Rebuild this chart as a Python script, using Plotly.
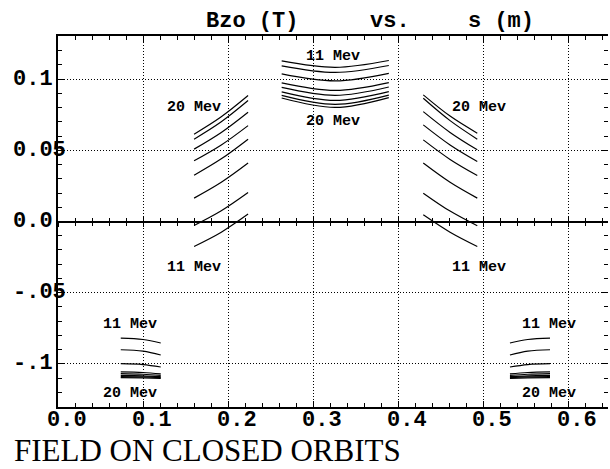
import plotly.graph_objects as go

# Vertical field Bz on the closed orbits versus path length s.
# Each row is one orbit, ordered from 11 MeV to 20 MeV.

# rising flank
s_rise = [0.160, 0.192, 0.2235]
bz_rise = [
    [-0.0175, -0.0075, 0.0052],
    [-0.0028, 0.0075, 0.0203],
    [0.0164, 0.0275, 0.0410],
    [0.0325, 0.0440, 0.0578],
    [0.0426, 0.0537, 0.0673],
    [0.0508, 0.0625, 0.0767],
    [0.0578, 0.0700, 0.0849],
    [0.0613, 0.0735, 0.0884],
]

# hill centre
s_hill = [0.263, 0.326, 0.389]
bz_hill = [
    [0.1127, 0.1082, 0.1130],
    [0.1092, 0.1046, 0.1095],
    [0.1036, 0.0987, 0.1040],
    [0.0973, 0.0920, 0.0975],
    [0.0941, 0.0885, 0.0944],
    [0.0910, 0.0850, 0.0912],
    [0.0885, 0.0822, 0.0887],
    [0.0867, 0.0801, 0.0870],
]

# falling flank
s_fall = [0.4295, 0.461, 0.493]
bz_fall = [
    [0.0047, -0.0075, -0.0175],
    [0.0199, 0.0073, -0.0030],
    [0.0410, 0.0275, 0.0164],
    [0.0573, 0.0436, 0.0323],
    [0.0678, 0.0537, 0.0421],
    [0.0771, 0.0625, 0.0503],
    [0.0865, 0.0708, 0.0578],
    [0.0889, 0.0740, 0.0620],
]

# valley, first half
s_val1 = [0.0738, 0.100, 0.1208]
bz_val1 = [
    [-0.0818, -0.0828, -0.0853],
    [-0.0900, -0.0910, -0.0937],
    [-0.0998, -0.1004, -0.1021],
    [-0.1056, -0.1060, -0.1070],
    [-0.1068, -0.1072, -0.1080],
    [-0.1080, -0.1083, -0.1089],
    [-0.1089, -0.1091, -0.1096],
    [-0.1096, -0.1098, -0.1101],
]

# valley, second half
s_val2 = [0.5314, 0.5523, 0.5785]
bz_val2 = [
    [-0.0853, -0.0828, -0.0818],
    [-0.0937, -0.0910, -0.0900],
    [-0.1021, -0.1004, -0.0998],
    [-0.1070, -0.1060, -0.1056],
    [-0.1080, -0.1072, -0.1068],
    [-0.1089, -0.1083, -0.1080],
    [-0.1096, -0.1091, -0.1089],
    [-0.1101, -0.1098, -0.1096],
]

# energy labels placed next to each bundle
label_s = [0.1596, 0.1596, 0.3238, 0.3238, 0.4949, 0.4949, 0.0844, 0.0844, 0.5772, 0.5772]
label_bz = [0.0797, -0.0325, 0.1157, 0.0701, 0.0797, -0.0325, -0.0724, -0.1210, -0.0724, -0.1210]
label_text = ["20 Mev", "11 Mev", "11 Mev", "20 Mev", "20 Mev", "11 Mev",
              "11 Mev", "20 Mev", "11 Mev", "20 Mev"]

x_ticks = [0.0, 0.1, 0.2, 0.3, 0.4, 0.5, 0.6]
x_tick_text = ["0.0", "0.1", "0.2", "0.3", "0.4", "0.5", "0.6"]
y_ticks = [0.1, 0.05, 0.0, -0.05, -0.1]
y_tick_text = ["0.1", "0.05", "0.0", "-.05", "-.1"]

X_RANGE = [0.0, 0.6467]
Y_RANGE = [-0.1302, 0.1302]
W, H = 610, 469
ML, MR, MT, MB = 58, 2, 36, 62
PW, PH = W - ML - MR, H - MT - MB

MONO = "Liberation Mono"
line_style = dict(color="black", width=1.2, shape="spline", smoothing=1)

fig = go.Figure()


def add_bundle(s, rows, xa="x", ya="y"):
    for row in rows:
        fig.add_trace(go.Scatter(x=s, y=row, mode="lines", line=line_style,
                                 xaxis=xa, yaxis=ya, hoverinfo="skip",
                                 showlegend=False))


add_bundle(s_rise, bz_rise)
add_bundle(s_hill, bz_hill, ya="y2")
add_bundle(s_fall, bz_fall, xa="x3")
add_bundle(s_val1, bz_val1, xa="x4")
add_bundle(s_val2, bz_val2)


def px_x(px):
    return (px - ML) / PW


def px_y(py):
    return (H - MB - py) / PH


annotations = []
for s, b, t in zip(label_s, label_bz, label_text):
    annotations.append(dict(x=s, y=b, xref="x", yref="y", text=t, showarrow=False,
                            xanchor="center", yanchor="middle",
                            font=dict(family=MONO, size=15, color="black", weight="bold")))

for v, t in zip(y_ticks, y_tick_text):
    annotations.append(dict(x=px_x(11), y=v, xref="paper", yref="y", text=t,
                            showarrow=False, xanchor="left", yanchor="middle",
                            font=dict(family=MONO, size=22, color="black", weight="bold")))

for v, t in zip(x_ticks, x_tick_text):
    annotations.append(dict(x=v, y=px_y(420), xref="x", yref="paper", text=t,
                            showarrow=False, xanchor="center", yanchor="middle", xshift=9,
                            font=dict(family=MONO, size=22, color="black", weight="bold")))

# title pieces
for px, t in [(204, "Bzo (T)"), (368, "vs."), (466, "s (m)")]:
    annotations.append(dict(x=px_x(px), y=px_y(21), xref="paper", yref="paper", text=t,
                            showarrow=False, xanchor="left", yanchor="middle",
                            font=dict(family=MONO, size=22, color="black", weight="bold")))

annotations.append(dict(x=px_x(13), y=px_y(469), xref="paper", yref="paper",
                        text="FIELD ON CLOSED ORBITS", showarrow=False,
                        xanchor="left", yanchor="bottom", borderpad=0,
                        font=dict(family="Liberation Serif", size=31, color="black")))

grid = dict(showgrid=True, gridcolor="black", gridwidth=1, griddash="1px,2px")
minor_x = dict(dtick=0.02, tick0=0, ticklen=4, tickcolor="black", tickwidth=1, showgrid=False)
minor_y = dict(dtick=0.01, tick0=0, ticklen=4, tickcolor="black", tickwidth=1, showgrid=False)

fig.update_layout(
    width=W, height=H,
    margin=dict(l=ML, r=MR, t=MT, b=MB),
    paper_bgcolor="white", plot_bgcolor="white",
    showlegend=False,
    annotations=annotations,
    xaxis=dict(range=X_RANGE, tick0=0, dtick=0.1, ticks="inside", ticklen=6,
               tickcolor="black", showline=True, linecolor="black", linewidth=1.5,
               mirror="ticks", showticklabels=False, zeroline=False,
               minor=dict(ticks="inside", **minor_x), **grid),
    yaxis=dict(range=Y_RANGE, tick0=0, dtick=0.05, ticks="inside", ticklen=6,
               tickcolor="black", showline=True, linecolor="black", linewidth=1.5,
               showticklabels=False, zeroline=False,
               minor=dict(ticks="inside", **minor_y), **grid),
    yaxis2=dict(range=Y_RANGE, overlaying="y", side="right", tick0=0, dtick=0.05,
                ticks="inside", ticklen=6, tickcolor="black", showline=False,
                showgrid=False, showticklabels=False, zeroline=False,
                minor=dict(ticks="inside", **minor_y)),
    # zero line carrying tick marks on both sides
    xaxis3=dict(range=X_RANGE, overlaying="x", anchor="free", position=0.5,
                tick0=0, dtick=0.1, ticks="outside", ticklen=5, tickcolor="black",
                showline=True, linecolor="black", linewidth=1.5, showgrid=False,
                showticklabels=False, zeroline=False,
                minor=dict(ticks="outside", dtick=0.02, tick0=0, ticklen=3.5,
                           tickcolor="black", showgrid=False)),
    xaxis4=dict(range=X_RANGE, overlaying="x", anchor="free", position=0.5,
                tick0=0, dtick=0.1, ticks="inside", ticklen=5, tickcolor="black",
                showline=False, showgrid=False, showticklabels=False, zeroline=False,
                minor=dict(ticks="inside", dtick=0.02, tick0=0, ticklen=3.5,
                           tickcolor="black", showgrid=False)),
)

fig.write_html("out.html")
